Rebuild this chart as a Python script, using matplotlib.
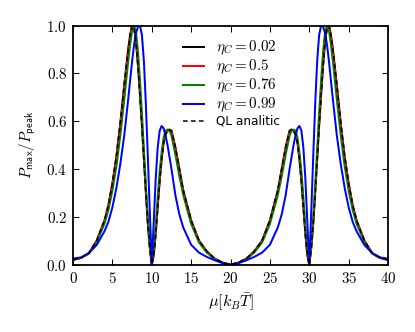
import matplotlib
matplotlib.use("Agg")
import matplotlib.pyplot as plt
from matplotlib.ticker import FormatStrFormatter

plt.rcParams['mathtext.fontset'] = 'cm'
plt.rcParams['font.size'] = 12

# chemical potential grid
mu = [0, 1, 2, 3, 4, 4.5, 5, 5.5, 6, 6.5, 7, 7.25, 7.5, 7.75, 8, 8.25, 8.5, 8.75,
      9, 9.25, 9.5, 9.75, 10, 10.25, 10.5, 10.75, 11, 11.25, 11.5, 11.75, 12,
      12.25, 12.5, 13, 13.5, 14, 15, 16, 17, 18, 19, 20,
      21, 22, 23, 24, 25, 26, 26.5, 27, 27.5, 27.75, 28, 28.25, 28.5, 28.75,
      29, 29.25, 29.5, 29.75, 30, 30.25, 30.5, 30.75, 31, 31.25, 31.5, 31.75,
      32, 32.25, 32.5, 32.75, 33, 33.5, 34, 34.5, 35, 35.5, 36, 37, 38, 39, 40]

eta_002 = [0.020, 0.028, 0.047, 0.100, 0.185, 0.25, 0.34, 0.45, 0.59, 0.75, 0.90, 0.96, 1.00, 0.99,
           0.93, 0.83, 0.71, 0.58, 0.44, 0.30, 0.17, 0.07, 0.0, 0.04, 0.13, 0.24, 0.35, 0.44,
           0.51, 0.545, 0.56, 0.565, 0.56, 0.49, 0.40, 0.31, 0.185, 0.10, 0.055, 0.025, 0.008, 0.0,
           0.008, 0.025, 0.055, 0.10, 0.185, 0.31, 0.40, 0.49, 0.56, 0.565, 0.56, 0.545, 0.51,
           0.44, 0.35, 0.24, 0.13, 0.04, 0.0, 0.07, 0.17, 0.30, 0.44, 0.58, 0.71, 0.83, 0.93,
           0.99, 1.00, 0.96, 0.90, 0.75, 0.59, 0.45, 0.34, 0.25, 0.185, 0.100, 0.047, 0.028, 0.020]

eta_05 = [0.020, 0.028, 0.047, 0.099, 0.183, 0.248, 0.337, 0.447, 0.585, 0.745, 0.895, 0.957, 0.998, 0.995,
          0.94, 0.84, 0.72, 0.59, 0.45, 0.31, 0.175, 0.072, 0.0, 0.042, 0.135, 0.25, 0.355, 0.445,
          0.515, 0.55, 0.562, 0.563, 0.557, 0.487, 0.397, 0.307, 0.183, 0.099, 0.054, 0.024, 0.008, 0.0,
          0.008, 0.024, 0.054, 0.099, 0.183, 0.307, 0.397, 0.487, 0.557, 0.563, 0.562, 0.55, 0.515,
          0.445, 0.355, 0.25, 0.135, 0.042, 0.0, 0.072, 0.175, 0.31, 0.45, 0.59, 0.72, 0.84, 0.94,
          0.995, 0.998, 0.957, 0.895, 0.745, 0.585, 0.447, 0.337, 0.248, 0.183, 0.099, 0.047, 0.028, 0.020]

eta_076 = [0.021, 0.028, 0.046, 0.094, 0.172, 0.23, 0.31, 0.41, 0.54, 0.69, 0.85, 0.92, 0.98, 1.00,
           0.97, 0.89, 0.77, 0.63, 0.48, 0.33, 0.19, 0.08, 0.0, 0.05, 0.16, 0.28, 0.39, 0.47,
           0.53, 0.56, 0.565, 0.56, 0.54, 0.46, 0.37, 0.29, 0.17, 0.092, 0.05, 0.022, 0.007, 0.0,
           0.007, 0.022, 0.05, 0.092, 0.17, 0.29, 0.37, 0.46, 0.54, 0.56, 0.565, 0.56, 0.53,
           0.47, 0.39, 0.28, 0.16, 0.05, 0.0, 0.08, 0.19, 0.33, 0.48, 0.63, 0.77, 0.89, 0.97,
           1.00, 0.98, 0.92, 0.85, 0.69, 0.54, 0.41, 0.31, 0.23, 0.172, 0.094, 0.046, 0.028, 0.021]

eta_099 = [0.025, 0.030, 0.048, 0.082, 0.14, 0.18, 0.24, 0.32, 0.42, 0.54, 0.69, 0.77, 0.85, 0.92,
           0.97, 0.995, 1.00, 0.96, 0.85, 0.67, 0.45, 0.22, 0.0, 0.18, 0.36, 0.49, 0.56, 0.58,
           0.57, 0.54, 0.50, 0.45, 0.40, 0.29, 0.21, 0.155, 0.083, 0.05, 0.032, 0.018, 0.006, 0.0,
           0.006, 0.018, 0.032, 0.05, 0.083, 0.155, 0.21, 0.29, 0.40, 0.45, 0.50, 0.54, 0.57,
           0.58, 0.56, 0.49, 0.36, 0.18, 0.0, 0.22, 0.45, 0.67, 0.85, 0.96, 1.00, 0.995, 0.97,
           0.92, 0.85, 0.77, 0.69, 0.54, 0.42, 0.32, 0.24, 0.18, 0.14, 0.082, 0.048, 0.030, 0.025]

# quasi-linear analytic result sits on top of the eta=0.02 curve
ql_analitic = eta_002

fig = plt.figure(figsize=(415/72, 332/72), dpi=72)
ax = fig.add_axes([0.176, 0.203, 0.759, 0.72])

ax.plot(mu, eta_002, color='k', lw=2, label=r'$\eta_C=0.02$')
ax.plot(mu, eta_05, color='r', lw=2, label=r'$\eta_C=0.5$')
ax.plot(mu, eta_076, color=(0, 0.5, 0), lw=2, label=r'$\eta_C=0.76$')
ax.plot(mu, eta_099, color='b', lw=2, label=r'$\eta_C=0.99$')
ax.plot(mu, ql_analitic, color='k', lw=1.5, ls='--', dashes=(3.1, 2.2), label='QL analitic')

ax.set_xlim(0, 40)
ax.set_ylim(0, 1)
ax.set_xticks(range(0, 41, 5))
ax.set_yticks([0, 0.2, 0.4, 0.6, 0.8, 1.0])
ax.xaxis.set_major_formatter(FormatStrFormatter('$%d$'))
ax.yaxis.set_major_formatter(FormatStrFormatter('$%.1f$'))
ax.tick_params(direction='in', top=True, right=True, length=6, width=1, pad=6, labelsize=15)
for s in ax.spines.values():
    s.set_linewidth(1.8)

ax.set_xlabel(r'$\mu[k_B\bar{T}]$', fontsize=16, va='center')
ax.set_ylabel(r'$P_{\mathsf{max}}/P_{\mathsf{peak}}$', fontsize=15, va='center')
ax.xaxis.set_label_coords(0.5, -0.16)
ax.yaxis.set_label_coords(-0.145, 0.5)

leg = ax.legend(loc='upper left', bbox_to_anchor=(0.35, 0.945), frameon=False, fontsize=12,
                handlelength=1.75, handletextpad=1.0, labelspacing=0.05, borderpad=0, borderaxespad=0)
for t in leg.get_texts()[:4]:
    t.set_fontsize(15)

fig.savefig('out.png', dpi=72)
